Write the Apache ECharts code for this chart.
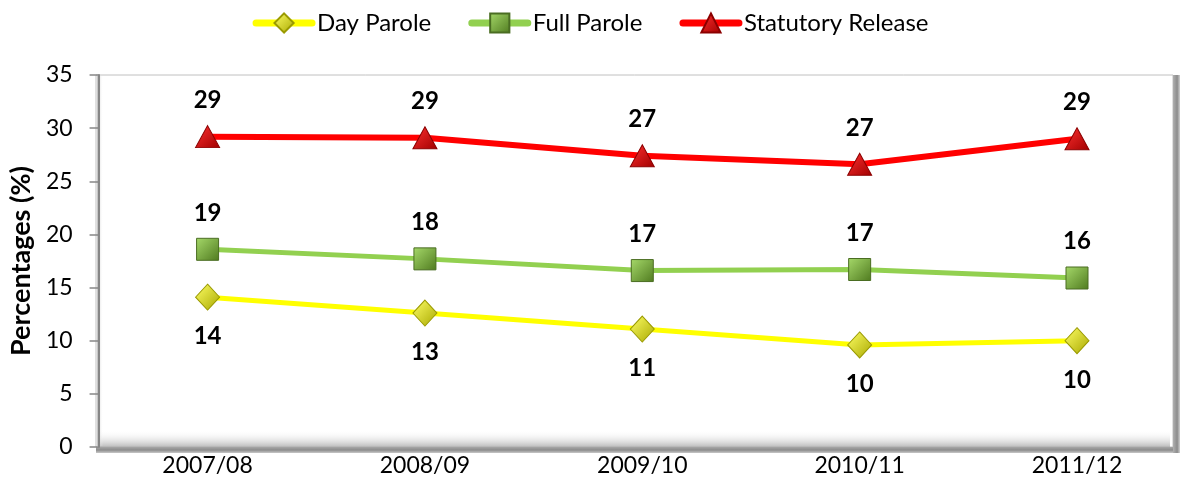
<!DOCTYPE html>
<html><head><meta charset="utf-8">
<script src="https://cdn.jsdelivr.net/npm/echarts@6/dist/echarts.min.js"></script>
<style>html,body{margin:0;padding:0;background:#fff}#c{width:1181px;height:496px}</style>
</head><body><div id="c"></div>
<script>
const categories = ['2007/08', '2008/09', '2009/10', '2010/11', '2011/12'];
const dayParole = [14.1, 12.6, 11.1, 9.6, 10.0];
const fullParole = [18.6, 17.7, 16.6, 16.7, 15.9];
const statutoryRelease = [29.2, 29.1, 27.4, 26.6, 29.0];
const yTicks = [0, 5, 10, 15, 20, 25, 30, 35];

const FONT = 'Lato';
const chart = echarts.init(document.getElementById('c'), null, {renderer: 'canvas'});
function grad(c1, c2) {
  return new echarts.graphic.LinearGradient(0, 0, 1, 1, [{offset: 0, color: c1}, {offset: 1, color: c2}]);
}
const labelStyle = {show: true, fontFamily: FONT, fontWeight: 'bold', fontSize: 24, color: '#000', distance: 13,
  formatter: p => Math.round(p.value)};
const LG = echarts.graphic.LinearGradient;
chart.setOption({
  animation: false,
  legend: {
    top: 6, left: 'center', itemWidth: 56, itemHeight: 24, itemGap: 37,
    lineStyle: {width: 7, cap: 'round'},
    textStyle: {fontFamily: FONT, fontSize: 24, color: '#000'},
    data: ['Day Parole', 'Full Parole', 'Statutory Release']
  },
  graphic: [
    {type: 'rect', z: -10, shape: {x: 96, y: 75, width: 1077, height: 372},
     style: {fill: '#ffffff', stroke: '#c0c0c0', lineWidth: 1}},
    {type: 'rect', z: -9, shape: {x: 98, y: 430, width: 1072, height: 17},
     style: {fill: new LG(0, 0, 0, 1, [{offset: 0, color: 'rgba(255,255,255,0)'}, {offset: 1, color: 'rgba(170,170,170,0.8)'}])}},
    {type: 'rect', z: -9, shape: {x: 97, y: 76, width: 6, height: 370},
     style: {fill: new LG(0, 0, 1, 0, [{offset: 0, color: 'rgba(170,170,170,0.8)'}, {offset: 1, color: 'rgba(255,255,255,0)'}])}},
    {type: 'rect', z: -9, shape: {x: 96, y: 447, width: 1083, height: 6},
     style: {fill: new LG(0, 0, 0, 1, [{offset: 0, color: '#a6a6a6'}, {offset: 0.5, color: '#8c8c8c'}, {offset: 1, color: '#c8c8c8'}])}},
    {type: 'rect', z: -9, shape: {x: 1173, y: 75, width: 7, height: 378},
     style: {fill: new LG(0, 0, 1, 0, [{offset: 0, color: '#b0b0b0'}, {offset: 0.6, color: '#8c8c8c'}, {offset: 1, color: '#d0d0d0'}])}}
  ],
  grid: {left: 205, top: 75, width: 872, height: 372, containLabel: false},
  xAxis: {
    type: 'category', data: categories, boundaryGap: false,
    axisLine: {show: false}, axisTick: {show: false},
    axisLabel: {fontFamily: FONT, fontSize: 23, color: '#000', margin: 7}
  },
  yAxis: {
    type: 'value', min: yTicks[0], max: yTicks[yTicks.length - 1], interval: 5, offset: 109,
    name: 'Percentages (%)', nameLocation: 'middle', nameGap: 62, nameRotate: 90,
    nameTextStyle: {fontFamily: FONT, fontWeight: 'bold', fontSize: 27, color: '#000'},
    axisLine: {show: true, lineStyle: {color: '#868686', width: 2}},
    axisTick: {show: true, length: 9, lineStyle: {color: '#868686', width: 1.5}},
    axisLabel: {fontFamily: FONT, fontSize: 23, color: '#000', margin: 26},
    splitLine: {show: false}
  },
  series: [
    {name: 'Day Parole', type: 'line', data: dayParole, symbol: 'diamond', symbolSize: [24, 26],
     lineStyle: {color: '#FFFF00', width: 5}, itemStyle: {color: grad('#ffff66', '#a8a800'), borderColor: '#9a9a00', borderWidth: 1},
     label: Object.assign({}, labelStyle, {position: 'bottom', distance: 14})},
    {name: 'Full Parole', type: 'line', data: fullParole, symbol: 'rect', symbolSize: [22, 22],
     lineStyle: {color: '#92D050', width: 5}, itemStyle: {color: grad('#a6d96a', '#4f7a1f'), borderColor: '#4a6d22', borderWidth: 1},
     label: Object.assign({}, labelStyle, {position: 'top'})},
    {name: 'Statutory Release', type: 'line', data: statutoryRelease, symbol: 'triangle', symbolSize: [24, 22],
     lineStyle: {color: '#FF0000', width: 6}, itemStyle: {color: grad('#ff3030', '#a00000'), borderColor: '#8b0000', borderWidth: 1},
     label: Object.assign({}, labelStyle, {position: 'top'})}
  ]
});
</script></body></html>
